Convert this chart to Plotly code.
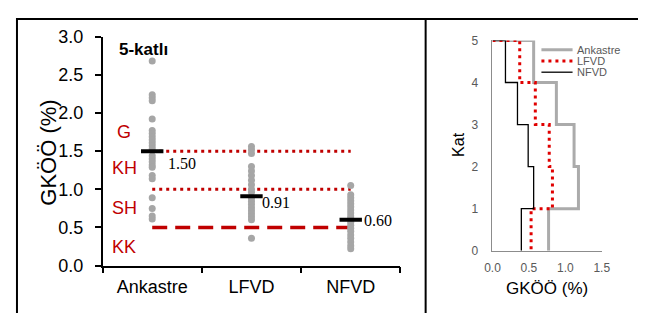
import plotly.graph_objects as go

# ---------------- data ----------------
categories = ["Ankastre", "LFVD", "NFVD"]
ankastre_pts = [2.68, 2.24, 2.20, 2.16, 1.92, 1.77, 1.73, 1.69, 1.65, 1.61, 1.57, 1.53,
                1.44, 1.40, 1.36, 1.32, 1.29, 1.18, 1.14, 0.89, 0.75, 0.65, 0.61]
lfvd_pts = [1.56, 1.52, 1.47, 1.30, 1.24, 1.18, 1.12, 1.06, 1.00, 0.96,
            0.88, 0.84, 0.80, 0.76, 0.72, 0.68, 0.64, 0.60, 0.36]
nfvd_pts = [1.05, 0.93, 0.89, 0.85, 0.81, 0.77, 0.73, 0.69, 0.65, 0.62, 0.57, 0.53,
            0.49, 0.45, 0.40, 0.36, 0.31, 0.26, 0.22]
means = [1.50, 0.91, 0.60]
mean_labels = ["1.50", "0.91", "0.60"]
limits_dotted = [1.5, 1.0]
limit_dashed = 0.5
zone_labels = ["G", "KH", "SH", "KK"]
zone_y = [1.75, 1.28, 0.75, 0.25]

# right panel: storey drift per storey (storey 5 .. 1), kat levels
kat = [5, 4, 3, 2, 1, 0]
ank_drift = [0.565, 0.877, 1.12, 1.18, 0.77]   # storeys 5..1
lfvd_drift = [0.374, 0.588, 0.779, 0.823, 0.53]
nfvd_drift = [0.178, 0.343, 0.49, 0.565, 0.396]
series_names = ["Ankastre", "LFVD", "NFVD"]

# page is 646x321 with the default 8px body margin -> figure 630x305
OFF = 8
W, H = 646 - 2 * OFF, 321 - 2 * OFF


def PX(x):
    return (x - OFF) / W


def PY(y):
    return 1 - (y - OFF) / H


FONT = "Liberation Sans, Arial, sans-serif"
SERIF = "Liberation Serif, Times New Roman, serif"
DARKRED = "#C00000"
GREY = "#A6A6A6"

fig = go.Figure()

# threshold lines (behind dots)
for v in limits_dotted:
    fig.add_trace(go.Scatter(x=[categories[0], categories[-1]], y=[v, v], mode="lines",
                             line=dict(color=DARKRED, width=3, dash="3px,4px"),
                             xaxis="x", yaxis="y", showlegend=False, hoverinfo="skip"))
fig.add_trace(go.Scatter(x=[categories[0], categories[-1]], y=[limit_dashed, limit_dashed],
                         mode="lines", line=dict(color=DARKRED, width=3.5, dash="15px,8px"),
                         xaxis="x", yaxis="y", showlegend=False, hoverinfo="skip"))

# dots
for cat, pts in zip(categories, [ankastre_pts, lfvd_pts, nfvd_pts]):
    fig.add_trace(go.Scatter(x=[cat] * len(pts), y=pts, mode="markers",
                             marker=dict(color=GREY, size=7, line=dict(width=0)),
                             xaxis="x", yaxis="y", showlegend=False))

# mean bars
fig.add_trace(go.Scatter(x=categories, y=means, mode="markers",
                         marker=dict(symbol="line-ew", size=16,
                                     line=dict(color="black", width=4)),
                         xaxis="x", yaxis="y", showlegend=False))


def step_x(d):
    return [0] + list(d)


fig.add_trace(go.Scatter(x=step_x(ank_drift), y=kat, mode="lines", line_shape="hv",
                         line=dict(color="#ABABAB", width=3), xaxis="x2", yaxis="y2",
                         showlegend=False))
fig.add_trace(go.Scatter(x=step_x(lfvd_drift), y=kat, mode="lines", line_shape="hv",
                         line=dict(color="#E00000", width=3, dash="3px,4px"),
                         xaxis="x2", yaxis="y2", showlegend=False))
fig.add_trace(go.Scatter(x=step_x(nfvd_drift), y=kat, mode="lines", line_shape="hv",
                         line=dict(color="black", width=1.3), xaxis="x2", yaxis="y2",
                         showlegend=False))

ann = []
ann.append(dict(text="<b>5-katlı</b>", x=PX(112), y=PY(42), xref="paper", yref="paper",
                xanchor="left", yanchor="middle", showarrow=False,
                font=dict(family=FONT, size=17, color="black")))
ann.append(dict(text="GKÖÖ (%)", x=PX(41), y=PY(152), xref="paper", yref="paper",
                textangle=-90, showarrow=False, xanchor="center", yanchor="middle",
                font=dict(family=FONT, size=22, color="black")))
for t, yv in zip(zone_labels, zone_y):
    ann.append(dict(text=t, x=PX(119), y=yv, xref="paper", yref="y", showarrow=False,
                    xanchor="center", yanchor="middle",
                    font=dict(family=FONT, size=18, color=DARKRED)))
shifts = [(14, -12), (9, -6), (11, -1)]
for cat, m, lab, (dx, dy) in zip(categories, means, mean_labels, shifts):
    ann.append(dict(text=lab, x=cat, y=m, xref="x", yref="y", showarrow=False,
                    xanchor="left", yanchor="middle", xshift=dx, yshift=dy,
                    font=dict(family=SERIF, size=16, color="black")))
ann.append(dict(text="Kat", x=PX(462), y=PY(143), xref="paper", yref="paper",
                textangle=-90, showarrow=False, xanchor="center", yanchor="middle",
                font=dict(family=FONT, size=16, color="black")))
ann.append(dict(text="GKÖÖ (%)", x=PX(554), y=PY(297), xref="paper", yref="paper",
                showarrow=False, xanchor="center", yanchor="middle",
                font=dict(family=FONT, size=17, color="black")))
leg_y = [42, 54, 66]
for name, ly in zip(series_names, leg_y):
    ann.append(dict(text=name, x=PX(582), y=PY(ly), xref="paper", yref="paper",
                    showarrow=False, xanchor="left", yanchor="middle",
                    font=dict(family=FONT, size=11, color="#595959")))

shapes = []
shapes.append(dict(type="line", xref="paper", yref="paper", x0=PX(8), x1=1.02,
                   y0=PY(9), y1=PY(9), line=dict(color="black", width=2)))
shapes.append(dict(type="line", xref="paper", yref="paper", x0=PX(9), x1=PX(9),
                   y0=PY(8), y1=-0.05, line=dict(color="black", width=2)))
shapes.append(dict(type="line", xref="paper", yref="paper", x0=PX(429), x1=PX(429),
                   y0=PY(8), y1=-0.05, line=dict(color="black", width=2)))
leg_styles = [dict(color="#ABABAB", width=3), dict(color="#E00000", width=3, dash="3px,4px"),
              dict(color="black", width=1.3)]
for st, ly in zip(leg_styles, leg_y):
    shapes.append(dict(type="line", xref="paper", yref="paper", x0=PX(548), x1=PX(580),
                       y0=PY(ly), y1=PY(ly), line=st))

fig.update_layout(
    width=W, height=H, margin=dict(l=0, r=0, t=0, b=0),
    paper_bgcolor="white", plot_bgcolor="white", showlegend=False,
    font=dict(family=FONT, color="black"),
    xaxis=dict(domain=[PX(97), PX(403)], type="category", categoryorder="array",
               categoryarray=categories, range=[-0.5, 2.5], tickson="boundaries",
               ticks="outside", ticklen=6, tickwidth=1.5, tickcolor="black",
               showline=True, linecolor="black", linewidth=1.5, showgrid=False,
               zeroline=False, tickfont=dict(family=FONT, size=18, color="black"),
               anchor="y", fixedrange=True, ticklabelstandoff=4),
    yaxis=dict(domain=[PY(273), PY(28)], range=[0, 3], dtick=0.5, tickformat=".1f",
               ticks="outside", ticklen=6, tickwidth=1.5, tickcolor="black",
               showline=True, linecolor="black", linewidth=1.5, showgrid=False,
               zeroline=False, tickfont=dict(family=FONT, size=18, color="black"),
               anchor="x", ticklabelstandoff=8),
    xaxis2=dict(domain=[PX(497.7), PX(610)], range=[0, 1.5], dtick=0.5, tickformat=".1f",
                showline=True, linecolor="#8C8C8C", linewidth=1, showgrid=False,
                zeroline=False, ticks="", tickfont=dict(family=FONT, size=12, color="#595959"),
                anchor="y2", ticklabelstandoff=6),
    yaxis2=dict(domain=[PY(257), PY(32)], range=[0, 5], dtick=1,
                showline=True, linecolor="#8C8C8C", linewidth=1, showgrid=False,
                zeroline=False, ticks="", tickfont=dict(family=FONT, size=12, color="#595959"),
                anchor="x2", ticklabelstandoff=11),
    annotations=ann, shapes=shapes,
)

fig.write_html("out.html")
